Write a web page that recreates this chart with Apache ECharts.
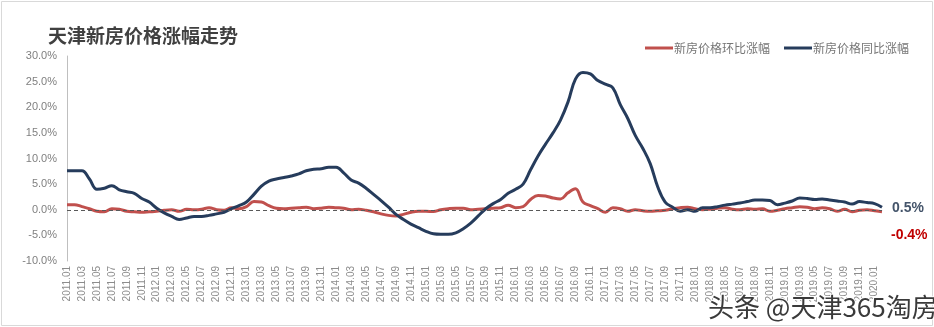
<!DOCTYPE html>
<html><head><meta charset="utf-8">
<script src="https://cdn.jsdelivr.net/npm/echarts@6/dist/echarts.min.js"></script>
<style>html,body{margin:0;padding:0;background:#fff}#c{width:934px;height:327px}</style>
</head><body><div id="c"></div>
<script>
// categories: monthly 2011.01 – 2020.02
const years = [2011,2012,2013,2014,2015,2016,2017,2018,2019,2020];
const categories = [];
for (const y of years) for (let m = 1; m <= 12; m++) { if (y === 2020 && m > 2) break; categories.push(y + '.' + (m < 10 ? '0' + m : m)); }

const seriesNames = ['新房价格环比涨幅', '新房价格同比涨幅'];

// month-on-month (%)
const momValues = [
 1.0,1.0,0.6,0.2,-0.3,-0.4,0.2,0.1,-0.3,-0.4,-0.5,-0.4,
 -0.3,-0.1,0.0,-0.3,0.1,0.0,0.1,0.4,0.0,-0.1,0.4,0.2,
 0.6,1.6,1.5,0.8,0.3,0.2,0.3,0.4,0.5,0.2,0.3,0.5,
 0.4,0.3,0.0,0.1,-0.1,-0.4,-0.8,-1.1,-1.2,-0.9,-0.5,-0.3,
 -0.3,-0.35,0.0,0.2,0.3,0.3,0.0,0.1,0.2,0.3,0.4,0.9,
 0.4,0.6,2.0,2.8,2.7,2.3,2.1,3.3,4.1,1.5,0.8,0.2,
 -0.5,0.4,0.2,-0.3,0.0,-0.2,-0.3,-0.2,-0.1,0.2,0.4,0.5,
 0.2,0.0,0.1,0.3,0.4,0.1,0.0,0.2,0.1,0.2,-0.3,-0.1,
 0.2,0.4,0.6,0.5,0.2,0.4,0.2,-0.3,0.1,-0.4,-0.1,0.0,
 -0.2,-0.4
];
// year-on-year (%)
const yoyValues = [
 7.6,7.6,7.6,6.0,4.0,4.2,4.7,3.9,3.5,3.2,2.2,1.5,
 0.3,-0.6,-1.3,-1.9,-1.6,-1.3,-1.3,-1.1,-0.8,-0.5,0.2,0.8,
 1.5,3.0,4.6,5.6,6.0,6.3,6.6,7.0,7.6,7.9,8.0,8.3,
 8.3,7.2,5.8,5.2,4.2,3.0,1.8,0.5,-0.9,-1.9,-2.8,-3.5,
 -4.2,-4.7,-4.8,-4.8,-4.5,-3.7,-2.6,-1.2,0.2,1.2,2.0,3.2,
 4.0,5.0,7.8,10.5,12.8,15.0,17.5,21.0,25.5,26.8,26.5,25.2,
 24.5,23.8,20.5,17.8,14.5,12.0,9.0,4.5,1.5,0.5,-0.3,0.0,
 -0.3,0.4,0.4,0.6,0.9,1.1,1.3,1.6,1.9,1.9,1.8,1.0,
 1.3,1.7,2.3,2.2,2.0,2.1,1.9,1.7,1.5,1.1,1.6,1.4,
 1.2,0.5
];

const chart = echarts.init(document.getElementById('c'), null, {renderer: 'canvas'});
const FONT = '"Noto Sans CJK SC", "Noto Sans", sans-serif';
const NUMFONT = '"Liberation Sans", Arial, sans-serif';
chart.setOption({
  animation: false,
  textStyle: {fontFamily: FONT},
  title: {text: '天津新房价格涨幅走势', left: 48, top: 26, padding: 0,
    textStyle: {fontSize: 19, fontWeight: 'bold', color: '#404040', fontFamily: FONT}},
  legend: {right: 20, top: 37, itemWidth: 28, itemHeight: 3, itemGap: 14, icon: 'rect',
    textStyle: {fontSize: 12, color: '#767676', padding: [0,0,0,-4]}, data: seriesNames},
  grid: {left: 67, right: 52, top: 56, bottom: 66, containLabel: false},
  xAxis: {type: 'category', boundaryGap: false, data: categories,
    axisLine: {show: false}, axisTick: {show: false},
    axisLabel: {rotate: 90, interval: 1, fontSize: 10, color: '#8c8c8c', margin: 5, fontFamily: NUMFONT}},
  yAxis: {type: 'value', min: -10, max: 30, interval: 5,
    axisLine: {show: true, lineStyle: {color: '#bfbfbf'}}, axisTick: {show: false}, splitLine: {show: false},
    axisLabel: {fontSize: 11, color: '#808080', margin: 10, fontFamily: NUMFONT, formatter: v => v.toFixed(1) + '%'}},
  series: [
    {name: seriesNames[0], type: 'line', data: momValues, smooth: 0.4, symbol: 'none',
     lineStyle: {width: 3, color: '#c0504d'}, itemStyle: {color: '#c0504d'}, z: 3,
     endLabel: {show: true, formatter: p => p.value + '%', color: '#c00000', fontSize: 14, fontWeight: 'bold', fontFamily: NUMFONT, distance: 9, offset: [0, 23]},
     markLine: {silent: true, symbol: 'none', label: {show: false},
       lineStyle: {type: [4, 3], color: '#595959', width: 1}, data: [{yAxis: 0}]}},
    {name: seriesNames[1], type: 'line', data: yoyValues, smooth: 0.4, symbol: 'none',
     lineStyle: {width: 3, color: '#263c5c'}, itemStyle: {color: '#263c5c'}, z: 4,
     endLabel: {show: true, formatter: p => p.value + '%', color: '#44546a', fontSize: 14, fontWeight: 'bold', fontFamily: NUMFONT, distance: 10, offset: [0, 1]}}
  ],
  graphic: [
    {type: 'rect', shape: {x: 1.5, y: 1.5, width: 931, height: 324}, style: {fill: 'none', stroke: '#d9d9d9', lineWidth: 1}, silent: true, z: -1},
    {type: 'text', left: 707, top: 293, style: {text: '头条 @天津365淘房', font: '26px ' + FONT, fill: '#3a3a3a', stroke: '#ffffff', lineWidth: 2}, z: 100}
  ]
});
</script></body></html>
